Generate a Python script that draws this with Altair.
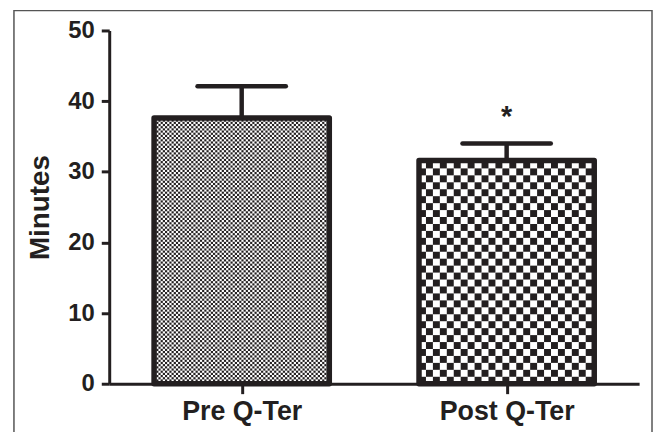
import json
import altair as alt
import pandas as pd

# ---- data ----
CATEGORIES = ["Pre Q-Ter", "Post Q-Ter"]
MEANS = [37.6, 31.6]
SEMS = [4.5, 2.4]
MARKERS = ["", "*"]
Y_TICKS = [0, 10, 20, 30, 40, 50]

# ---- style / layout ----
W, H = 534, 356
YMAX = 50
INK = "#231f20"
FONT = "Liberation Sans"
PX_X = W / len(CATEGORIES)          # pixels per x unit
PX_Y = H / YMAX                     # pixels per y unit
BAR_W = 176.6 / PX_X                # bar width in x units
CAP_HALF = 44.5 / PX_X              # half width of error cap
CELL_PX = [2.2, 7.0]                # checker cell size per bar (texture)

df = pd.DataFrame({"category": CATEGORIES, "mean": MEANS, "sem": SEMS, "mark": MARKERS})
df["idx"] = list(range(len(CATEGORIES)))

xscale = alt.Scale(domain=[0, len(CATEGORIES)], nice=False, zero=False)
yscale = alt.Scale(domain=[0, YMAX], nice=False)

label_expr = f"{json.dumps(CATEGORIES)}[floor(datum.value)]"
xaxis = alt.Axis(values=[i + 0.5 for i in range(len(CATEGORIES))], labelExpr=label_expr,
                 title=None, tickSize=10, labelFontSize=27, labelPadding=5, labelAngle=0)
yaxis = alt.Axis(values=Y_TICKS, title="Minutes", tickSize=8, labelFontSize=24,
                 labelPadding=7, titleFontSize=28, titlePadding=13)


def X(f):
    return alt.X(f"{f}:Q", scale=xscale, axis=xaxis)


def Y(f):
    return alt.Y(f"{f}:Q", scale=yscale, axis=yaxis)


base = alt.Chart(df).transform_calculate(
    pos="datum.idx + 0.5",
    left=f"datum.idx + 0.5 - {BAR_W / 2}",
    right=f"datum.idx + 0.5 + {BAR_W / 2}",
    capl=f"datum.idx + 0.5 - {CAP_HALF}",
    capr=f"datum.idx + 0.5 + {CAP_HALF}",
    top="datum.mean + datum.sem",
    zero="0",
)

# checker texture inside each bar
cells = base.transform_calculate(
    cell=f"{json.dumps(CELL_PX)}[datum.idx]",
).transform_calculate(
    cols=f"sequence(0, ceil({BAR_W * PX_X} / datum.cell))",
    rows=f"sequence(0, ceil(datum.mean * {PX_Y} / datum.cell))",
).transform_flatten(["cols"], as_=["col"]).transform_flatten(["rows"], as_=["row"]).transform_filter(
    "(datum.col + datum.row) % 2 == 0"
).transform_calculate(
    cx=f"datum.left + datum.col * datum.cell / {PX_X}",
    cy=f"datum.row * datum.cell / {PX_Y}",
).transform_calculate(
    cx2=f"min(datum.cx + datum.cell / {PX_X}, datum.right)",
    cy2=f"min(datum.cy + datum.cell / {PX_Y}, datum.mean)",
).mark_rect(fill=INK, strokeWidth=0).encode(
    x=X("cx"), x2="cx2", y=Y("cy"), y2="cy2"
)

bars = base.mark_rect(filled=False, stroke=INK, strokeWidth=5.5, strokeJoin="round").encode(
    x=X("left"), x2="right", y=Y("zero"), y2="mean"
)

stems = base.mark_rule(stroke=INK, strokeWidth=4.5).encode(
    x=X("pos"), y=Y("mean"), y2="top"
)
caps = base.mark_rule(stroke=INK, strokeWidth=4.5, strokeCap="round").encode(
    x=X("capl"), x2="capr", y=Y("top")
)
stars = base.mark_text(font=FONT, fontWeight="bold", fontSize=29, color=INK,
                       baseline="alphabetic", dy=-18).encode(
    x=X("pos"), y=Y("top"), text="mark:N"
)

frame = alt.Chart(pd.DataFrame({"f": [0]})).mark_rect(
    filled=False, stroke="#555555", strokeWidth=1.5
).encode(x=alt.value(-96), x2=alt.value(547), y=alt.value(-20), y2=alt.value(440))

chart = alt.layer(frame, cells, bars, stems, caps, stars).properties(
    width=W, height=H,
    padding={"left": 102, "top": 21, "right": 14, "bottom": 47},
    autosize=alt.AutoSizeParams(type="none"),
    background="white",
).configure_view(stroke=None).configure_axis(
    grid=False, domainColor=INK, domainWidth=3, tickColor=INK, tickWidth=3,
    labelFont=FONT, labelFontWeight="bold", labelColor=INK,
    titleFont=FONT, titleFontWeight="bold", titleColor=INK,
)

chart.save("out.html", embed_options={"renderer": "svg", "actions": False})
